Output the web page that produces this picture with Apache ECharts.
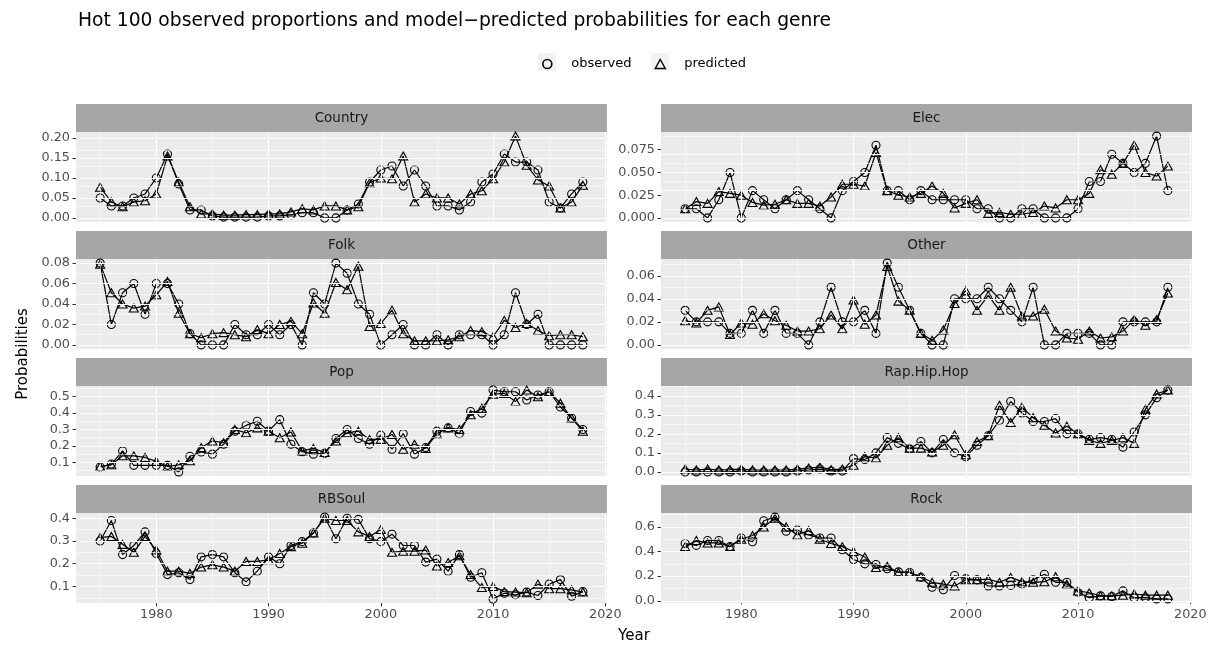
<!DOCTYPE html>
<html>
<head>
<meta charset="utf-8">
<script src="https://cdn.jsdelivr.net/npm/echarts@6/dist/echarts.min.js"></script>
<style>html,body{margin:0;padding:0;background:#fff}#c{width:1211px;height:646px}</style>
</head>
<body>
<div id="c"></div>
<script>
const years = [1975,1976,1977,1978,1979,1980,1981,1982,1983,1984,1985,1986,1987,1988,1989,1990,1991,1992,1993,1994,1995,1996,1997,1998,1999,2000,2001,2002,2003,2004,2005,2006,2007,2008,2009,2010,2011,2012,2013,2014,2015,2016,2017,2018];
const genres = ['Country','Elec','Folk','Other','Pop','Rap.Hip.Hop','RBSoul','Rock'];

const countryObs = [0.05,0.03,0.03,0.05,0.06,0.10,0.16,0.085,0.02,0.02, 0.005,0.002,0.002,0.002,0.002,0.005,0.005,0.008,0.013,0.013, 0.0,0.0,0.02,0.035,0.09,0.12,0.13,0.08,0.12,0.08, 0.03,0.03,0.02,0.04,0.09,0.11,0.16,0.14,0.14,0.12, 0.04,0.025,0.06,0.09];
const countryPred = [0.077,0.04,0.028,0.04,0.043,0.06,0.155,0.09,0.028,0.01, 0.01,0.007,0.007,0.008,0.008,0.01,0.01,0.015,0.023,0.02, 0.03,0.03,0.02,0.028,0.088,0.10,0.098,0.155,0.04,0.06, 0.05,0.05,0.035,0.06,0.068,0.098,0.14,0.205,0.132,0.095, 0.08,0.025,0.04,0.082];

const elecObs = [0.010,0.010,0.0,0.020,0.050,0.0,0.030,0.020,0.010,0.020, 0.030,0.020,0.010,0.0,0.030,0.040,0.050,0.080,0.030,0.030, 0.020,0.030,0.020,0.020,0.020,0.020,0.010,0.010,0.0,0.0, 0.010,0.010,0.0,0.0,0.0,0.010,0.040,0.040,0.070,0.060, 0.050,0.060,0.090,0.030];
const elecPred = [0.010,0.018,0.016,0.029,0.027,0.025,0.017,0.014,0.015,0.020, 0.016,0.016,0.013,0.023,0.037,0.037,0.035,0.072,0.030,0.025, 0.023,0.027,0.035,0.027,0.011,0.016,0.020,0.005,0.006,0.004, 0.004,0.006,0.013,0.011,0.020,0.020,0.027,0.053,0.048,0.060, 0.080,0.050,0.046,0.057];

const folkObs = [0.08,0.02,0.051,0.06,0.03,0.06,0.06,0.04,0.011,0.0, 0.0,0.0,0.02,0.01,0.01,0.02,0.01,0.02,0.0,0.051, 0.04,0.08,0.07,0.04,0.03,0.0,0.01,0.02,0.0,0.0, 0.01,0.0,0.01,0.01,0.01,0.0,0.01,0.051,0.02,0.03, 0.0,0.0,0.0,0.0];
const folkPred = [0.079,0.051,0.04,0.036,0.038,0.049,0.062,0.031,0.011,0.007, 0.011,0.012,0.01,0.008,0.015,0.011,0.02,0.023,0.011,0.041, 0.031,0.061,0.054,0.077,0.018,0.021,0.034,0.011,0.004,0.004, 0.004,0.005,0.008,0.014,0.013,0.008,0.024,0.017,0.021,0.014, 0.009,0.01,0.01,0.008];

const otherObs = [0.030,0.020,0.020,0.020,0.010,0.010,0.030,0.010,0.030,0.010, 0.010,0.0,0.020,0.050,0.020,0.020,0.030,0.010,0.071,0.050, 0.030,0.010,0.0,0.0,0.040,0.040,0.040,0.050,0.040,0.030, 0.020,0.050,0.0,0.0,0.010,0.010,0.010,0.0,0.0,0.020, 0.020,0.020,0.020,0.050];
const otherPred = [0.021,0.019,0.030,0.033,0.009,0.019,0.018,0.027,0.021,0.017, 0.012,0.012,0.014,0.026,0.014,0.039,0.018,0.026,0.068,0.038, 0.030,0.010,0.004,0.013,0.036,0.047,0.030,0.043,0.030,0.050, 0.025,0.025,0.031,0.012,0.006,0.005,0.012,0.006,0.007,0.012, 0.022,0.017,0.022,0.045];

const popObs = [0.072,0.09,0.17,0.082,0.082,0.082,0.082,0.042,0.137,0.163, 0.15,0.21,0.29,0.325,0.35,0.29,0.36,0.21,0.165,0.15, 0.155,0.245,0.30,0.245,0.21,0.265,0.18,0.275,0.15,0.19, 0.29,0.31,0.275,0.41,0.40,0.54,0.53,0.53,0.48,0.51, 0.53,0.437,0.37,0.30];
const popPred = [0.075,0.085,0.14,0.14,0.13,0.106,0.075,0.085,0.11,0.19, 0.23,0.22,0.30,0.28,0.31,0.29,0.25,0.285,0.17,0.185, 0.16,0.23,0.28,0.29,0.24,0.24,0.27,0.18,0.21,0.185, 0.275,0.31,0.30,0.39,0.43,0.515,0.52,0.47,0.54,0.50, 0.53,0.46,0.37,0.29];

const rapObs = [0,0,0,0,0,0.005,0,0,0,0, 0.005,0.01,0.015,0.005,0.005,0.07,0.065,0.10,0.18,0.15, 0.12,0.16,0.10,0.17,0.10,0.08,0.14,0.19,0.27,0.37, 0.31,0.265,0.265,0.28,0.20,0.20,0.17,0.18,0.17,0.13, 0.21,0.30,0.39,0.43];
const rapPred = [0.015,0.01,0.015,0.01,0.012,0.015,0.01,0.01,0.01,0.01, 0.015,0.02,0.025,0.012,0.015,0.035,0.08,0.073,0.14,0.18, 0.125,0.125,0.105,0.14,0.195,0.09,0.16,0.19,0.35,0.26, 0.34,0.285,0.245,0.205,0.24,0.20,0.165,0.15,0.165,0.18, 0.15,0.33,0.41,0.43];

const rbsoulObs = [0.30,0.39,0.24,0.28,0.34,0.245,0.152,0.16,0.13,0.23, 0.24,0.23,0.16,0.12,0.167,0.23,0.20,0.28,0.297,0.335, 0.405,0.31,0.40,0.395,0.31,0.297,0.33,0.28,0.28,0.207, 0.22,0.167,0.24,0.14,0.16,0.045,0.07,0.063,0.075,0.06, 0.11,0.13,0.057,0.077];
const rbsoulPred = [0.315,0.32,0.285,0.25,0.32,0.26,0.167,0.167,0.157,0.185, 0.195,0.185,0.167,0.21,0.21,0.217,0.245,0.275,0.29,0.335, 0.40,0.39,0.39,0.34,0.32,0.35,0.25,0.255,0.255,0.26, 0.19,0.205,0.235,0.152,0.095,0.10,0.077,0.075,0.072,0.11, 0.09,0.09,0.085,0.075];

const rockObs = [0.465,0.45,0.49,0.49,0.44,0.51,0.48,0.65,0.68,0.565, 0.575,0.535,0.51,0.51,0.415,0.335,0.30,0.295,0.26,0.235, 0.23,0.19,0.11,0.09,0.205,0.18,0.17,0.12,0.12,0.125, 0.135,0.17,0.215,0.15,0.15,0.07,0.025,0.04,0.035,0.08, 0.025,0.025,0.015,0.015];
const rockPred = [0.44,0.49,0.47,0.47,0.44,0.50,0.53,0.60,0.67,0.60, 0.535,0.57,0.50,0.465,0.44,0.40,0.355,0.27,0.28,0.23, 0.23,0.195,0.15,0.135,0.12,0.17,0.17,0.175,0.15,0.19, 0.155,0.15,0.155,0.195,0.135,0.08,0.065,0.04,0.04,0.045, 0.055,0.045,0.045,0.045];

const xTickLabels = ['1980','1990','2000','2010','2020'];
const xMinorTicks = [1975,1985,1995,2005,2015];

const yTicksCountry = ['0.00','0.05','0.10','0.15','0.20'];
const yTicksElec = ['0.000','0.025','0.050','0.075'];
const yTicksFolk = ['0.00','0.02','0.04','0.06','0.08'];
const yTicksOther = ['0.00','0.02','0.04','0.06'];
const yTicksPop = ['0.1','0.2','0.3','0.4','0.5'];
const yTicksRap = ['0.0','0.1','0.2','0.3','0.4'];
const yTicksRBSoul = ['0.1','0.2','0.3','0.4'];
const yTicksRock = ['0.0','0.2','0.4','0.6'];

const obsAll = [countryObs, elecObs, folkObs, otherObs, popObs, rapObs, rbsoulObs, rockObs];
const predAll = [countryPred, elecPred, folkPred, otherPred, popPred, rapPred, rbsoulPred, rockPred];
const yTickAll = [yTicksCountry, yTicksElec, yTicksFolk, yTicksOther, yTicksPop, yTicksRap, yTicksRBSoul, yTicksRock];

const FONT = "'DejaVu Sans', 'Liberation Sans', Arial, sans-serif";
const colLeft = [76, 661];
const panelW = 531;
const rowTop = [132, 259, 386, 513];
const panelH = 90;
const stripH = 28;

const xMin = 1975 - 43 * 0.05, xMax = 2018 + 43 * 0.05;
const xMajor = xTickLabels.map(Number);

const grids = [], xAxes = [], yAxes = [], series = [], graphics = [];

genres.forEach((g, i) => {
  const row = Math.floor(i / 2), col = i % 2;
  const left = colLeft[col], top = rowTop[row];
  const bottom = row === 3;
  grids.push({ left: left, top: top, width: panelW, height: panelH, show: true, backgroundColor: '#EBEBEB', borderWidth: 0 });
  const all = obsAll[i].concat(predAll[i]);
  const lo = Math.min.apply(null, all), hi = Math.max.apply(null, all);
  const pad = (hi - lo) * 0.05;
  const yMin = lo - pad, yMax = hi + pad;
  const labels = yTickAll[i];
  const yVals = labels.map(Number);
  const step = yVals[1] - yVals[0];
  const yMinor = [];
  const cand = [yVals[0] - step / 2];
  for (let k = 0; k < yVals.length; k++) cand.push(yVals[k] + step / 2);
  cand.forEach(v => { if (v >= yMin && v <= yMax) yMinor.push(v); });

  xAxes.push({
    type: 'value', gridIndex: i, min: xMin, max: xMax,
    splitLine: { show: false }, axisLine: { show: false },
    axisTick: { show: bottom, length: 3.5, customValues: xMajor, lineStyle: { color: '#333333', width: 1 } },
    axisLabel: { show: bottom, customValues: xMajor, color: '#4D4D4D', fontSize: 12.8, fontFamily: FONT, margin: 5,
      formatter: v => String(Math.round(v)) }
  });
  yAxes.push({
    type: 'value', gridIndex: i, min: yMin, max: yMax,
    splitLine: { show: false }, axisLine: { show: false },
    axisTick: { show: true, length: 3.5, customValues: yVals, lineStyle: { color: '#333333', width: 1 } },
    axisLabel: { customValues: yVals, color: '#4D4D4D', fontSize: 12.8, fontFamily: FONT, margin: 6,
      formatter: v => { let best = labels[0], bd = Infinity; labels.forEach(l => { const d = Math.abs(Number(l) - v); if (d < bd) { bd = d; best = l; } }); return best; } }
  });

  const ml = [];
  xMinorTicks.forEach(v => ml.push({ xAxis: v, lineStyle: { color: '#FFFFFF', width: 0.55, type: 'solid' } }));
  yMinor.forEach(v => ml.push({ yAxis: v, lineStyle: { color: '#FFFFFF', width: 0.55, type: 'solid' } }));
  xMajor.forEach(v => ml.push({ xAxis: v, lineStyle: { color: '#FFFFFF', width: 1.1, type: 'solid' } }));
  yVals.forEach(v => ml.push({ yAxis: v, lineStyle: { color: '#FFFFFF', width: 1.1, type: 'solid' } }));

  series.push({
    type: 'line', name: 'grid' + i, xAxisIndex: i, yAxisIndex: i, data: [], silent: true, z: 1,
    markLine: { symbol: ['none', 'none'], silent: true, animation: false, label: { show: false }, emphasis: { disabled: true }, data: ml }
  });
  series.push({
    type: 'line', name: 'observed', xAxisIndex: i, yAxisIndex: i,
    data: years.map((y, k) => [y, obsAll[i][k]]),
    symbol: 'circle', symbolSize: 8, showAllSymbol: true,
    itemStyle: { color: 'rgba(0,0,0,0)', borderColor: '#000000', borderWidth: 1.1 },
    lineStyle: { color: '#000000', width: 1.2 }, z: 3, animation: false, emphasis: { disabled: true }
  });
  series.push({
    type: 'line', name: 'predicted', xAxisIndex: i, yAxisIndex: i,
    data: years.map((y, k) => [y, predAll[i][k]]),
    symbol: 'triangle', symbolSize: [9, 8], showAllSymbol: true,
    itemStyle: { color: 'rgba(0,0,0,0)', borderColor: '#000000', borderWidth: 1.1 },
    lineStyle: { color: '#000000', width: 1.2 }, z: 3, animation: false, emphasis: { disabled: true }
  });

  graphics.push({ type: 'rect', shape: { x: left, y: top - stripH, width: panelW, height: stripH }, style: { fill: '#A6A6A6' }, silent: true });
  graphics.push({ type: 'text', x: left + panelW / 2, y: top - stripH / 2, silent: true,
    style: { text: g, fill: '#1A1A1A', font: '13.5px ' + FONT, textAlign: 'center', textVerticalAlign: 'middle' } });
});

graphics.push({ type: 'rect', shape: { x: 538, y: 53, width: 18, height: 18 }, style: { fill: '#F2F2F2' }, silent: true, z: -1 });
graphics.push({ type: 'rect', shape: { x: 651, y: 53, width: 18, height: 18 }, style: { fill: '#F2F2F2' }, silent: true, z: -1 });
graphics.push({ type: 'text', x: 634, y: 636, silent: true,
  style: { text: 'Year', fill: '#000000', font: '15px ' + FONT, textAlign: 'center', textVerticalAlign: 'middle' } });
graphics.push({ type: 'text', x: 23, y: 354, rotation: Math.PI / 2, silent: true,
  style: { text: 'Probabilities', fill: '#000000', font: '15px ' + FONT, textAlign: 'center', textVerticalAlign: 'middle' } });

const chart = echarts.init(document.getElementById('c'), null, { renderer: 'canvas' });
chart.setOption({
  animation: false,
  backgroundColor: '#FFFFFF',
  textStyle: { fontFamily: FONT },
  title: { text: 'Hot 100 observed proportions and model\u2212predicted probabilities for each genre', left: 73, top: 7,
    textStyle: { fontSize: 18.7, fontWeight: 'normal', color: '#000000', fontFamily: FONT } },
  legend: {
    left: 542, top: 57.5, padding: 0, itemWidth: 10, itemHeight: 9, itemGap: 23, symbolKeepAspect: true,
    selectedMode: false,
    textStyle: { fontSize: 13, color: '#000000', fontFamily: FONT, padding: [0, 0, 0, 14] },
    data: [
      { name: 'observed', icon: 'circle', itemStyle: { color: 'rgba(0,0,0,0)', borderColor: '#000000', borderWidth: 1.6 } },
      { name: 'predicted', icon: 'triangle', itemStyle: { color: 'rgba(0,0,0,0)', borderColor: '#000000', borderWidth: 1.4 } }
    ]
  },
  grid: grids, xAxis: xAxes, yAxis: yAxes, series: series,
  graphic: graphics
});
</script>
</body>
</html>
